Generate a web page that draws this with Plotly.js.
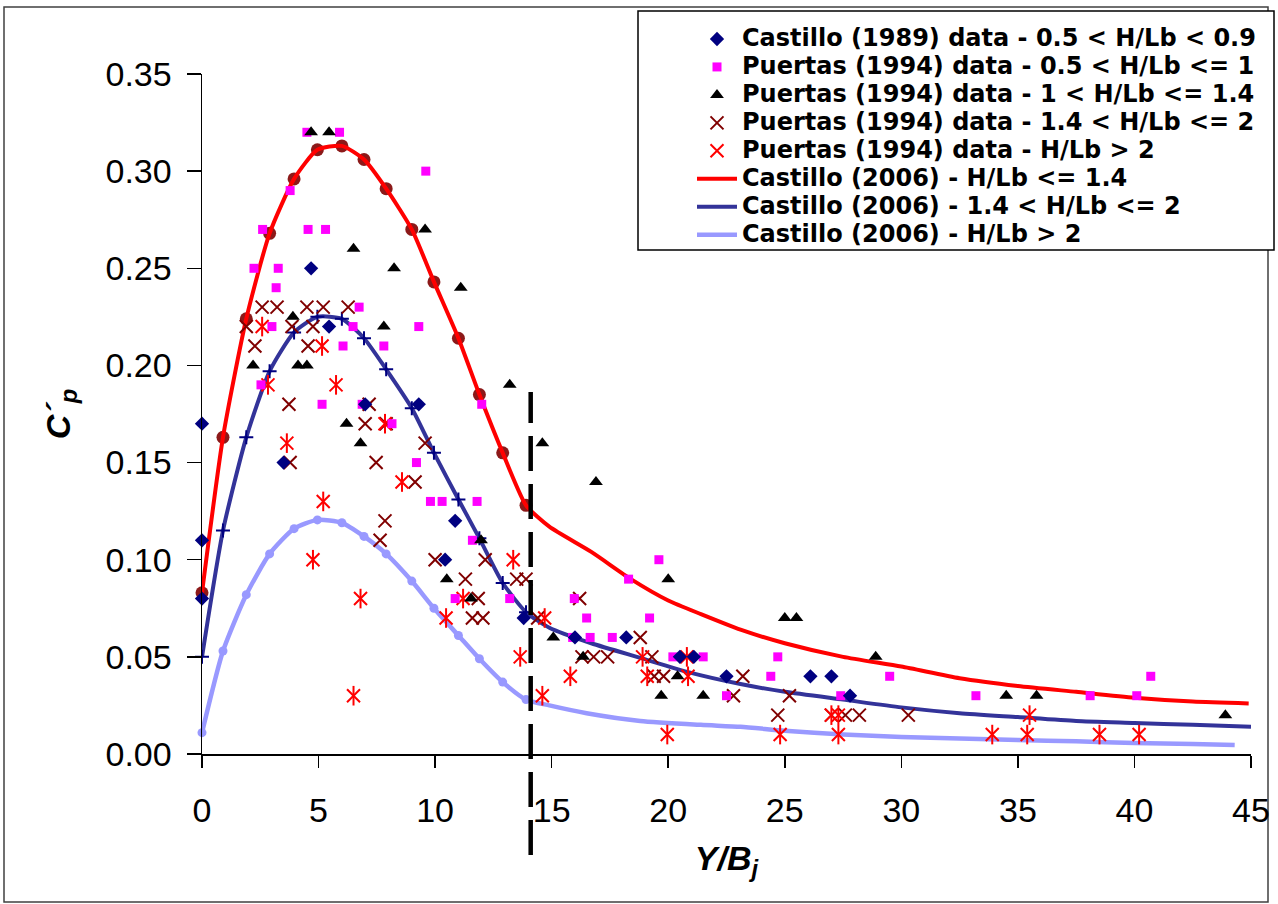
<!DOCTYPE html>
<html>
<head>
<meta charset="utf-8">
<script src="https://cdn.plot.ly/plotly-3.0.1.min.js"></script>
<style>html,body{margin:0;padding:0;background:#fff;}#chart{width:1278px;height:904px;}</style>
</head>
<body>
<div id="chart"></div>
<script>
// ---------- data ----------
// Castillo (1989) data - 0.5 < H/Lb < 0.9
const castilloX = [0, 0, 0, 3.5, 4.68, 5.45, 7.0, 9.3, 10.43, 10.86, 13.8, 16.0, 18.2, 20.5, 21.1, 22.5, 26.1, 27.0, 27.8];
const castilloY = [0.17, 0.11, 0.08, 0.15, 0.25, 0.22, 0.18, 0.18, 0.10, 0.12, 0.07, 0.06, 0.06, 0.05, 0.05, 0.04, 0.04, 0.04, 0.03];

// Puertas (1994) data - 0.5 < H/Lb <= 1
const puertasAX = [4.5, 5.9, 9.6, 3.78, 2.6, 4.55, 5.3, 2.23, 3.27, 3.18, 6.74, 3.0, 6.48, 9.3, 6.05, 7.8, 2.53, 5.15, 6.87, 8.15, 9.2, 9.8, 10.3, 11.8, 12.0, 11.6, 10.86, 13.2, 15.97, 16.5, 19.2, 18.3, 19.6, 15.9, 16.65, 17.6, 20.2, 21.5, 22.5, 24.7, 24.4, 29.5, 27.4, 33.2, 38.1, 40.1, 40.7];
const puertasAY = [0.32, 0.32, 0.30, 0.29, 0.27, 0.27, 0.27, 0.25, 0.25, 0.24, 0.23, 0.22, 0.22, 0.22, 0.21, 0.21, 0.19, 0.18, 0.18, 0.17, 0.15, 0.13, 0.13, 0.13, 0.18, 0.11, 0.08, 0.08, 0.08, 0.07, 0.07, 0.09, 0.10, 0.06, 0.06, 0.06, 0.05, 0.05, 0.03, 0.05, 0.04, 0.04, 0.03, 0.03, 0.03, 0.03, 0.04];

// Puertas (1994) data - 1 < H/Lb <= 1.4
const puertasBX = [4.68, 5.45, 9.57, 6.5, 8.24, 11.1, 3.9, 7.8, 2.19, 4.12, 4.5, 6.2, 6.8, 13.2, 14.6, 16.9, 11.97, 10.5, 11.54, 15.07, 16.35, 20.0, 20.4, 19.7, 21.5, 25.0, 25.5, 28.9, 34.5, 35.8, 43.9];
const puertasBY = [0.32, 0.32, 0.27, 0.26, 0.25, 0.24, 0.225, 0.22, 0.20, 0.20, 0.20, 0.17, 0.16, 0.19, 0.16, 0.14, 0.11, 0.09, 0.08, 0.06, 0.05, 0.09, 0.04, 0.03, 0.03, 0.07, 0.07, 0.05, 0.03, 0.03, 0.02];

// Puertas (1994) data - 1.4 < H/Lb <= 2
const puertasCX = [1.9, 2.58, 3.22, 4.5, 5.2, 6.27, 3.86, 4.76, 2.27, 4.55, 3.73, 7.17, 7.0, 7.9, 9.57, 3.78, 7.47, 9.14, 7.85, 7.64, 10.0, 12.15, 11.3, 13.5, 13.9, 11.85, 11.6, 12.05, 14.4, 16.2, 18.8, 16.3, 16.8, 17.4, 19.3, 19.4, 19.8, 23.2, 22.8, 25.2, 24.7, 27.0, 27.6, 28.2, 30.3];
const puertasCY = [0.22, 0.23, 0.23, 0.23, 0.23, 0.23, 0.22, 0.22, 0.21, 0.21, 0.18, 0.18, 0.17, 0.17, 0.16, 0.15, 0.15, 0.14, 0.12, 0.11, 0.10, 0.10, 0.09, 0.09, 0.09, 0.08, 0.07, 0.07, 0.07, 0.08, 0.06, 0.05, 0.05, 0.05, 0.05, 0.04, 0.04, 0.04, 0.03, 0.03, 0.02, 0.02, 0.02, 0.02, 0.02];

// Puertas (1994) data - H/Lb > 2
const puertasDX = [2.58, 5.15, 2.83, 5.75, 3.64, 7.85, 5.2, 8.58, 4.76, 6.8, 6.5, 13.35, 11.2, 10.47, 13.65, 14.7, 15.8, 14.6, 18.9, 19.1, 20.8, 20.85, 19.96, 24.8, 27.0, 27.3, 27.3, 33.9, 35.5, 35.4, 38.5, 40.2];
const puertasDY = [0.22, 0.21, 0.19, 0.19, 0.16, 0.17, 0.13, 0.14, 0.10, 0.08, 0.03, 0.10, 0.08, 0.07, 0.05, 0.07, 0.04, 0.03, 0.05, 0.04, 0.05, 0.04, 0.01, 0.01, 0.02, 0.02, 0.01, 0.01, 0.02, 0.01, 0.01, 0.01];

// Castillo (2006) model points (marked part of the curves)
const modelX = [0, 0.9, 1.9, 2.9, 3.95, 4.95, 6.0, 6.95, 7.9, 9.0, 9.95, 11.0, 11.9, 12.9, 13.9];
const modelRedY = [0.083, 0.163, 0.224, 0.268, 0.296, 0.311, 0.313, 0.306, 0.291, 0.270, 0.243, 0.214, 0.185, 0.155, 0.128];
const modelBlueY = [0.05, 0.115, 0.163, 0.197, 0.217, 0.225, 0.224, 0.214, 0.198, 0.178, 0.155, 0.131, 0.111, 0.088, 0.073];
const modelLightY = [0.011, 0.053, 0.082, 0.103, 0.116, 0.1205, 0.119, 0.112, 0.103, 0.089, 0.075, 0.061, 0.049, 0.037, 0.028];

// Castillo (2006) curve continuation (unmarked part)
const redTailX = [14.9, 16.7, 18.4, 20.0, 21.4, 23.1, 25.0, 27.5, 30.0, 32.5, 35.0, 37.5, 40.0, 42.5, 44.9];
const redTailY = [0.117, 0.104, 0.090, 0.079, 0.072, 0.064, 0.057, 0.050, 0.045, 0.039, 0.035, 0.032, 0.029, 0.027, 0.026];
const blueTailX = [14.9, 16.7, 18.8, 20.9, 23.1, 25.0, 27.5, 30.0, 32.5, 35.0, 37.5, 40.0, 42.5, 45.0];
const blueTailY = [0.065, 0.057, 0.0495, 0.042, 0.036, 0.032, 0.028, 0.024, 0.021, 0.019, 0.017, 0.016, 0.015, 0.014];
const lightTailX = [14.9, 16.5, 18.8, 21.4, 23.1, 25.0, 27.5, 30.0, 32.5, 35.0, 37.5, 40.0, 42.5, 44.3];
const lightTailY = [0.025, 0.021, 0.017, 0.015, 0.014, 0.012, 0.010, 0.0088, 0.008, 0.0072, 0.0065, 0.0057, 0.0052, 0.0046];

const xTicks = [0, 5, 10, 15, 20, 25, 30, 35, 40, 45];
const yTicks = [0, 0.05, 0.10, 0.15, 0.20, 0.25, 0.30, 0.35];
const dividerX = 14.1;

const legendNames = [
  'Castillo (1989) data - 0.5 &lt; H/Lb &lt; 0.9',
  'Puertas (1994) data - 0.5 &lt; H/Lb &lt;= 1',
  'Puertas (1994) data - 1 &lt; H/Lb &lt;= 1.4',
  'Puertas (1994) data - 1.4 &lt; H/Lb &lt;= 2',
  'Puertas (1994) data - H/Lb &gt; 2',
  'Castillo (2006) - H/Lb &lt;= 1.4',
  'Castillo (2006) - 1.4 &lt; H/Lb &lt;= 2',
  'Castillo (2006) - H/Lb &gt; 2'
];
const legendLabel = s => '<span style="font-size:24px">' + s + '</span>';

// ---------- traces ----------
const FONT = 'Liberation Sans, Arial, sans-serif';
const common = {type: 'scatter', cliponaxis: false};

const traces = [
  // model curves (drawn first, below the data)
  Object.assign({}, common, {x: modelX, y: modelRedY, mode: 'markers', showlegend: false, hoverinfo: 'skip',
    marker: {symbol: 'circle', size: 13, color: '#800000', opacity: 0.9}}),
  Object.assign({}, common, {x: modelX.concat(redTailX), y: modelRedY.concat(redTailY), mode: 'lines', name: legendLabel(legendNames[5]), legendrank: 6,
    line: {color: '#ff0000', width: 4, shape: 'spline', smoothing: 0.6}}),
  Object.assign({}, common, {x: modelX.concat(blueTailX), y: modelBlueY.concat(blueTailY), mode: 'lines', name: legendLabel(legendNames[6]), legendrank: 7,
    line: {color: '#333399', width: 4, shape: 'spline', smoothing: 0.6}}),
  Object.assign({}, common, {x: modelX, y: modelBlueY, mode: 'markers', showlegend: false, hoverinfo: 'skip',
    marker: {symbol: 'cross-thin-open', size: 10, color: '#000080', line: {color: '#000080', width: 2}}}),
  Object.assign({}, common, {x: modelX, y: modelLightY, mode: 'markers', showlegend: false, hoverinfo: 'skip',
    marker: {symbol: 'circle', size: 9, color: '#9999ff'}}),
  Object.assign({}, common, {x: modelX.concat(lightTailX), y: modelLightY.concat(lightTailY), mode: 'lines', name: legendLabel(legendNames[7]), legendrank: 8,
    line: {color: '#9999ff', width: 4.5, shape: 'spline', smoothing: 0.6}}),
  // data
  Object.assign({}, common, {x: puertasCX, y: puertasCY, mode: 'markers', name: legendLabel(legendNames[3]), legendrank: 4,
    marker: {symbol: 'x-thin-open', size: 13, color: '#800000', line: {color: '#800000', width: 2}}}),
  Object.assign({}, common, {x: puertasDX, y: puertasDY, mode: 'markers', name: legendLabel(legendNames[4]), legendrank: 5,
    marker: {symbol: 'x-thin-open', size: 13, color: '#ff0000', line: {color: '#ff0000', width: 2}}}),
  Object.assign({}, common, {x: puertasDX, y: puertasDY, mode: 'markers', showlegend: false, hoverinfo: 'skip',
    marker: {symbol: 'line-ns-open', size: 14, color: '#ff0000', line: {color: '#ff0000', width: 2}}}),
  Object.assign({}, common, {x: puertasAX, y: puertasAY, mode: 'markers', name: legendLabel(legendNames[1]), legendrank: 2,
    marker: {symbol: 'square', size: 9, color: '#ff00ff'}}),
  Object.assign({}, common, {x: puertasBX, y: puertasBY, mode: 'markers', name: legendLabel(legendNames[2]), legendrank: 3,
    marker: {symbol: 'triangle-up', size: 12, color: '#000000'}}),
  Object.assign({}, common, {x: castilloX, y: castilloY, mode: 'markers', name: legendLabel(legendNames[0]), legendrank: 1,
    marker: {symbol: 'diamond', size: 11, color: '#000080'}})
];

// ---------- layout ----------
const L = 202, R = 1251, T = 74, B = 754;   // plot area in pixels
const W = 1278, H = 904;
const px2paperX = p => (p - L) / (R - L);
const px2paperY = p => (B - p) / (B - T);

const layout = {
  width: W, height: H,
  margin: {l: L, r: W - R, t: T, b: H - B, pad: 0},
  paper_bgcolor: '#ffffff', plot_bgcolor: '#ffffff',
  font: {family: FONT, color: '#000000'},
  showlegend: true,
  legend: {
    x: px2paperX(692), y: px2paperY(20), xanchor: 'left', yanchor: 'top',
    bgcolor: 'rgba(0,0,0,0)', borderwidth: 0,
    font: {family: 'DejaVu Sans, Liberation Sans, sans-serif', size: 19.2, color: '#000000', weight: 'bold'},
    traceorder: 'normal', itemwidth: 40, tracegroupgap: 0
  },
  xaxis: {
    range: [0, 45], tickvals: xTicks, ticktext: xTicks.map(String),
    showgrid: false, zeroline: false, showline: true, linecolor: '#000', linewidth: 1.5,
    ticks: 'outside', ticklen: 12, tickwidth: 1.5, tickcolor: '#000',
    tickfont: {family: FONT, size: 34, color: '#000'}, ticklabelstandoff: 14,
    title: {text: '<b><i>Y/B<sub>j</sub></i></b>', font: {family: FONT, size: 34, color: '#000'}, standoff: 18}
  },
  yaxis: {
    range: [0, 0.35], tickvals: yTicks, ticktext: yTicks.map(v => v.toFixed(2)),
    showgrid: false, zeroline: false, showline: true, linecolor: '#000', linewidth: 1.5,
    ticks: 'outside', ticklen: 14, tickwidth: 1.5, tickcolor: '#000',
    tickfont: {family: FONT, size: 34, color: '#000'}, ticklabelstandoff: 8,
    title: {text: '<b><i>C´<sub>p</sub></i></b>', font: {family: FONT, size: 34, color: '#000'}, standoff: 24}
  },
  shapes: [
    // outer chart frame
    {type: 'rect', xref: 'paper', yref: 'paper', layer: 'below',
     x0: px2paperX(4), x1: px2paperX(1268), y0: px2paperY(902), y1: px2paperY(7),
     line: {color: '#404040', width: 1.5}, fillcolor: 'rgba(0,0,0,0)'},
    // legend box
    {type: 'rect', xref: 'paper', yref: 'paper', layer: 'above',
     x0: px2paperX(638), x1: px2paperX(1274), y0: px2paperY(250), y1: px2paperY(11),
     line: {color: '#000', width: 1.5}, fillcolor: '#ffffff'},
    // vertical dashed divider
    {type: 'line', xref: 'x', yref: 'paper', layer: 'above',
     x0: dividerX, x1: dividerX, y0: px2paperY(855), y1: px2paperY(392),
     line: {color: '#000', width: 4.5, dash: '35px,13px'}}
  ]
};

Plotly.newPlot('chart', traces, layout, {displayModeBar: false, staticPlot: true});
</script>
</body>
</html>
